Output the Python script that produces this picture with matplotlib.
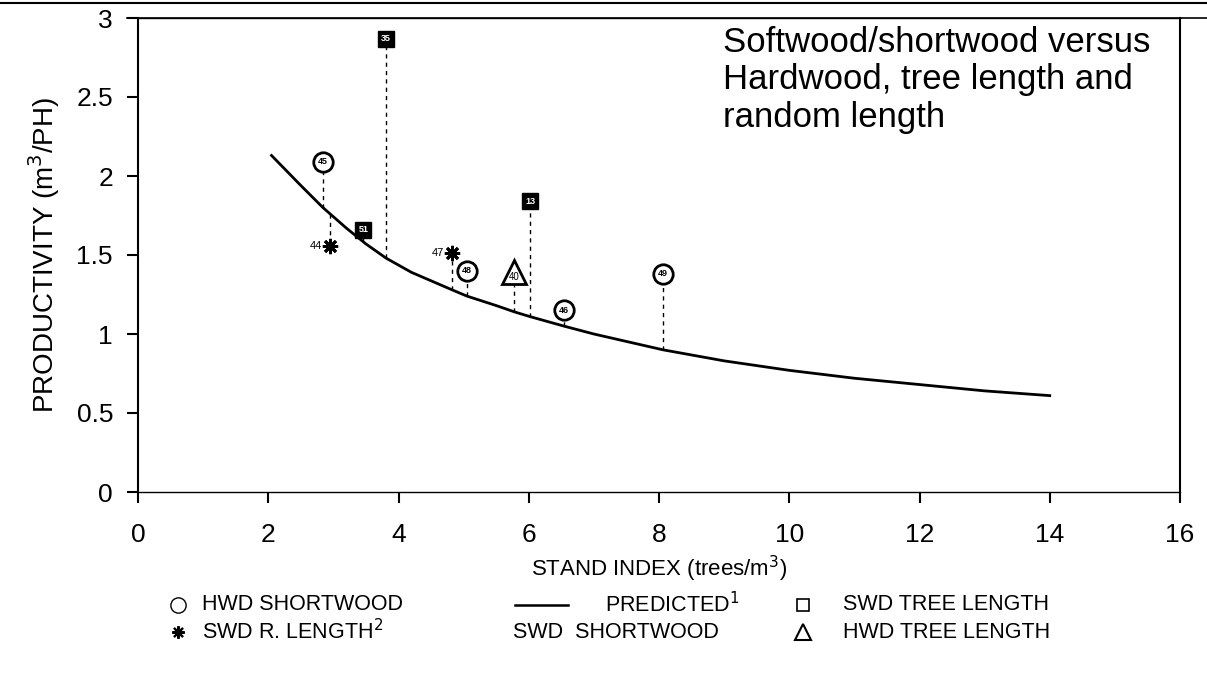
import numpy as np
import matplotlib.pyplot as plt
from matplotlib.lines import Line2D

plt.rcParams['font.family'] = ['Liberation Sans', 'DejaVu Sans']

# predicted curve
pred_x = [2.05, 2.5, 2.84, 3.2, 3.5, 3.81, 4.2, 4.82, 5.05, 5.5, 5.78, 6.02,
          6.54, 7.0, 8.06, 9.0, 10.0, 11.0, 12.0, 13.0, 14.0]
pred_y = [2.13, 1.94, 1.80, 1.67, 1.57, 1.48, 1.39, 1.28, 1.24, 1.18, 1.14, 1.11,
          1.05, 1.00, 0.90, 0.83, 0.77, 0.72, 0.68, 0.64, 0.61]

# observed points
hwd_sw_x = [2.84, 5.05, 6.54, 8.06]
hwd_sw_y = [2.09, 1.40, 1.15, 1.38]
hwd_sw_lab = ['45', '48', '46', '49']

swd_tl_x = [3.81, 3.46, 6.02]
swd_tl_y = [2.87, 1.66, 1.84]
swd_tl_lab = ['35', '51', '13']

swd_rl_x = [2.95, 4.82]
swd_rl_y = [1.56, 1.51]
swd_rl_lab = ['44', '47']

hwd_tl_x = [5.78]
hwd_tl_y = [1.39]
hwd_tl_lab = ['40']

fig = plt.figure(figsize=(12.07, 6.78), dpi=100)
ax = fig.add_axes([138/1207, 1-492/678, (1180-138)/1207, (492-18)/678])

ax.plot(pred_x, pred_y, color='black', lw=2)

# dashed lines from each point to the curve
all_x = hwd_sw_x + swd_tl_x + swd_rl_x + hwd_tl_x
all_y = hwd_sw_y + swd_tl_y + swd_rl_y + hwd_tl_y
curve_at = np.interp(all_x, pred_x, pred_y)
ax.vlines(all_x, curve_at, all_y, colors='black', linestyles=(0, (3, 3)), lw=1)

ax.plot(hwd_sw_x, hwd_sw_y, 'o', ms=14, mfc='white', mec='black', mew=2, ls='none')
for x, y, t in zip(hwd_sw_x, hwd_sw_y, hwd_sw_lab):
    ax.text(x, y, t, fontsize=6.5, fontweight='bold', ha='center', va='center')

ax.plot(swd_tl_x, swd_tl_y, 's', ms=12, mfc='black', mec='black', ls='none')
for x, y, t in zip(swd_tl_x, swd_tl_y, swd_tl_lab):
    ax.text(x, y, t, fontsize=6.5, fontweight='bold', color='white', ha='center', va='center')

ax.plot(swd_rl_x, swd_rl_y, marker=(8, 2, 0), ms=11, mew=2, color='black', ls='none')
for x, y, t in zip(swd_rl_x, swd_rl_y, swd_rl_lab):
    ax.text(x - 0.12, y, t, fontsize=8, ha='right', va='center')

ax.plot(hwd_tl_x, hwd_tl_y, '^', ms=17, mfc='white', mec='black', mew=2, ls='none')
for x, y, t in zip(hwd_tl_x, hwd_tl_y, hwd_tl_lab):
    ax.text(x, y - 0.03, t, fontsize=7, ha='center', va='center')

ax.text(8.99, 2.95, 'Softwood/shortwood versus\nHardwood, tree length and\nrandom length',
        fontsize=25, va='top', ha='left', linespacing=1.17)

ax.set_xlim(0, 16)
ax.set_ylim(0, 3)
ax.set_xticks(range(0, 17, 2))
ax.set_yticks([0, 0.5, 1, 1.5, 2, 2.5, 3])
ax.set_yticklabels(['0', '0.5', '1', '1.5', '2', '2.5', '3'])
ax.tick_params(labelsize=19, length=8, width=1.5, direction='out')
ax.tick_params(axis='x', pad=14)
ax.tick_params(axis='y', pad=10)
for s in ax.spines.values():
    s.set_linewidth(1.5)
ax.spines['top'].set_linewidth(1)
ax.spines['bottom'].set_linewidth(1)

ax.set_xlabel('STAND INDEX (trees/m$^3$)', fontsize=16, labelpad=5)
ax.set_ylabel('PRODUCTIVITY (m$^3$/PH)', fontsize=20, labelpad=10)

# page border lines at the top
fig.add_artist(Line2D([0, 1], [1-3/678, 1-3/678], color='black', lw=1.5))
fig.add_artist(Line2D([0.105, 1], [1-18/678, 1-18/678], color='black', lw=1.2))

# hand-built legend under the chart
r1 = 1 - 605/678
r2 = 1 - 632/678
fs = 15.5
fig.add_artist(Line2D([178/1207], [r1], marker='o', ms=11, mfc='white', mec='black', mew=1))
fig.text(202/1207, r1, 'HWD SHORTWOOD', fontsize=fs, va='center')
fig.add_artist(Line2D([178/1207], [r2], marker=(8, 2, 0), ms=9, mew=1.5, color='black'))
fig.text(202/1207, r2, 'SWD R. LENGTH$^2$', fontsize=fs, va='center')
fig.add_artist(Line2D([515/1207, 568/1207], [r1, r1], color='black', lw=1.8))
fig.text(605/1207, r1, 'PREDICTED$^1$', fontsize=fs, va='center')
fig.text(513/1207, r2, 'SWD  SHORTWOOD', fontsize=fs, va='center')
fig.add_artist(Line2D([803/1207], [r1], marker='s', ms=9, mfc='white', mec='black', mew=1.2))
fig.text(843/1207, r1, 'SWD TREE LENGTH', fontsize=fs, va='center')
fig.add_artist(Line2D([803/1207], [r2], marker='^', ms=11, mfc='white', mec='black', mew=1.5))
fig.text(843/1207, r2, 'HWD TREE LENGTH', fontsize=fs, va='center')

fig.savefig('out.png', dpi=100)
